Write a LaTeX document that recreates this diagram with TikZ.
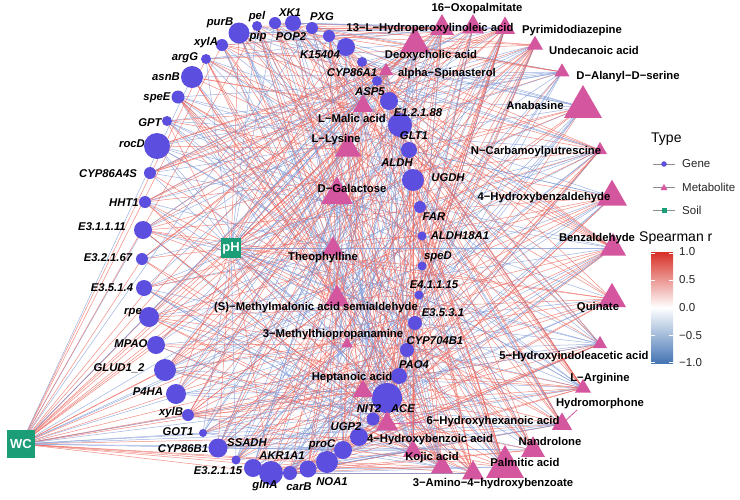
\documentclass[tikz,border=0pt]{standalone}
\usepackage{fontspec}
\setmainfont{Liberation Sans}
\usetikzlibrary{shapes.geometric}
\pgfdeclarelayer{edges}
\pgfdeclarelayer{shapes}
\pgfsetlayers{edges,shapes,main}
\definecolor{geneC}{RGB}{92,78,222}
\definecolor{metC}{RGB}{212,86,158}
\definecolor{soilC}{RGB}{27,158,119}
\definecolor{eR}{RGB}{236,100,90}
\definecolor{eB}{RGB}{125,152,214}
\definecolor{cbR}{RGB}{215,48,39}
\definecolor{cbB}{RGB}{69,117,180}
\tikzset{
  gene/.style={circle,fill=geneC,inner sep=0pt,minimum size=#1},
  met/.style={regular polygon,regular polygon sides=3,fill=metC,inner sep=0pt,minimum size=#1},
  soil/.style={rectangle,fill=soilC,inner sep=0pt,minimum size=#1,text=white,font=\fontsize{13}{15}\selectfont\bfseries},
  glab/.style={font=\fontsize{11.3}{13}\selectfont\bfseries\itshape,inner sep=0pt},
  mlab/.style={font=\fontsize{11.3}{13}\selectfont\bfseries,inner sep=0pt},
  redge/.style={draw=eR,line width=0.5pt,opacity=0.75},
  bedge/.style={draw=eB,line width=0.5pt,opacity=0.75},
  leader/.style={draw=metC,line width=0.8pt},
  legt/.style={font=\fontsize{14}{16}\selectfont,inner sep=0pt,anchor=west},
  legl/.style={font=\fontsize{11.5}{13}\selectfont,inner sep=0pt,anchor=west,text=black!85},
  keyline/.style={draw=black!45,line width=0.6pt},
  tickw/.style={draw=white,line width=0.6pt}
}
\begin{document}
\begin{tikzpicture}[x=1pt,y=-1pt]
\useasboundingbox (0,0) rectangle (740,499);
% ---------- genes ----------
\begin{pgfonlayer}{shapes}
\foreach \n/\x/\y/\s in {
1/239/33/21, 2/222/45/12, 3/206/59/10, 4/192/77/22, 5/178/97/13, 6/167/121/10,
7/157/146/26, 8/150/173/12, 9/145/202/12, 10/143/230/18, 11/142/259/12, 12/144/288/16,
13/149/317/20, 14/156/345/18, 15/165/370/22, 16/176/394/20, 17/188/415/12, 18/203/433/8,
19/218/448/19, 20/236/460/9, 21/253/468/18, 22/271/473/24, 23/290/473/14, 24/308/469/17,
25/327/462/22, 26/343/450/18, 27/359/437/18, 28/373/419/13, 29/387/398/30, 30/399/376/16,
31/407/350/14, 32/415/323/14, 33/419/295/9, 34/422/266/9, 35/422/236/9, 36/420/207/12,
37/413/180/22, 38/409/150/16, 39/400/125/24, 40/389/101/18, 41/377/81/10, 42/362/62/10,
43/346/47/18, 44/329/36/12, 45/312/28/12, 46/293/23/16, 47/275/23/12, 48/257/26/10}
{\node[gene=\s] (g\n) at (\x,\y) {};}
% ---------- metabolites ----------
\foreach \n/\x/\y/\w in {
1/442/28/24, 2/473/27/22, 3/505/28/20, 4/535/45/16, 5/415/44/30, 6/386/71/14,
7/562/72/15, 8/583/107/38, 9/600/150/14, 10/363/106/20, 11/348/149/26, 12/337/195/32,
13/333/249/22, 14/337/299/25, 15/347/344/12, 16/363/391/20, 17/387/424/22, 18/413/451/20,
19/442/467/22, 20/473/473/22, 21/505/467/38, 22/533/450/24, 23/562/424/20, 24/583/388/16,
25/600/344/14, 26/612/299/28, 27/613/248/26, 28/612/197/30}
{\pgfmathsetmacro{\d}{1.155*\w}\node[met=\d pt] (m\n) at (\x,\y) {};}
% ---------- soil ----------
\node[soil=20pt] (ph) at (231,248) {pH};
\node[soil=28pt] (wc) at (21,444) {WC};
\end{pgfonlayer}
% ---------- edges ----------
\begin{pgfonlayer}{edges}
\pgfmathsetseed{4242}
\foreach \i in {1,...,48}{
  \foreach \j in {1,...,28}{
    \pgfmathsetmacro{\rr}{rnd}
    \ifdim\rr pt<0.19pt \draw[redge] (g\i.center) -- (m\j.center);
    \else\ifdim\rr pt<0.36pt \draw[bedge] (g\i.center) -- (m\j.center);\fi\fi
  }
}
\foreach \i in {1,...,48}{
  \pgfmathsetmacro{\rr}{rnd}
  \ifdim\rr pt<0.25pt \draw[redge] (wc.center) -- (g\i.center);
  \else\ifdim\rr pt<0.55pt \draw[bedge] (wc.center) -- (g\i.center);\fi\fi
  \pgfmathsetmacro{\rr}{rnd}
  \ifdim\rr pt<0.3pt \draw[redge] (ph.center) -- (g\i.center);
  \else\ifdim\rr pt<0.55pt \draw[bedge] (ph.center) -- (g\i.center);\fi\fi
}
\foreach \j in {1,...,28}{
  \pgfmathsetmacro{\rr}{rnd}
  \ifdim\rr pt<0.3pt \draw[redge] (wc.center) -- (m\j.center);
  \else\ifdim\rr pt<0.55pt \draw[bedge] (wc.center) -- (m\j.center);\fi\fi
  \pgfmathsetmacro{\rr}{rnd}
  \ifdim\rr pt<0.35pt \draw[redge] (ph.center) -- (m\j.center);
  \else\ifdim\rr pt<0.6pt \draw[bedge] (ph.center) -- (m\j.center);\fi\fi
}
\end{pgfonlayer}
% ---------- gene labels ----------
\foreach \n/\x/\y/\t in {
1/220/23/purB, 2/206/43/xylA, 3/185/58/argG, 4/166/77/asnB, 5/157/98/speE, 6/150/123/GPT,
7/132/144/rocD, 8/108/174/CYP86A4S, 9/124/203/HHT1, 10/102/227/E3.1.1.11, 11/108/258/E3.2.1.67,
12/112/288/E3.5.1.4, 13/133/313/rpe, 14/131/344/MPAO, 15/119/368/GLUD1\_2, 16/148/392/P4HA,
17/171/413/xylB, 18/178/432/GOT1, 19/183/449/CYP86B1, 20/218/471/E3.2.1.15, 21/247/443/SSADH,
22/265/486/glnA, 23/282/456/AKR1A1, 24/299/487/carB, 25/332/482/NOA1, 26/322/445/proC,
27/346/427/UGP2, 28/369/409/NIT2, 29/403/409/ACE, 30/414/365/PAO4, 31/435/341/CYP704B1,
32/443/313/E3.5.3.1, 33/434/285/E4.1.1.15, 34/438/257/speD, 35/460/236/ALDH18A1, 36/434/217/FAR,
37/448/178/UGDH, 38/397/163/ALDH, 39/414/136/GLT1, 40/418/113/E1.2.1.88, 41/370/92/ASP5,
42/352/73/CYP86A1, 43/320/55/K15404, 44/291/37/POP2, 45/322/17/PXG, 46/290/13/XK1,
47/258/37/pip, 48/257/17/pel}
{\node[glab] (gl\n) at (\x,\y) {\t};}
% ---------- metabolite labels ----------
\foreach \n/\x/\y/\t in {
1/477/9/16−Oxopalmitate, 2/430/29/13−L−Hydroperoxylinoleic acid, 3/572/31/Pyrimidodiazepine,
4/594/50/Undecanoic acid, 5/431/56/Deoxycholic acid, 6/447/74/alpha−Spinasterol,
7/628/77/D−Alanyl−D−serine, 8/535/105/Anabasine, 9/536/152/N−Carbamoylputrescine,
10/352/118/L−Malic acid, 11/336/140/L−Lysine, 12/352/188/D−Galactose, 13/323/258/Theophylline,
14/316/308/(S)−Methylmalonic acid semialdehyde, 15/333/335/3−Methylthiopropanamine,
16/352/378/Heptanoic acid, 17/493/422/6−Hydroxyhexanoic acid, 18/430/440/4−Hydroxybenzoic acid,
19/432/458/Kojic acid, 20/493/484/3−Amino−4−hydroxybenzoate, 21/525/462/Palmitic acid,
22/550/441/Nandrolone, 23/600/404/Hydromorphone, 24/600/379/L−Arginine,
25/574/357/5−Hydroxyindoleacetic acid, 26/598/308/Quinate, 27/597/239/Benzaldehyde,
28/544/198/4−Hydroxybenzaldehyde}
{\node[mlab] (ml\n) at (\x,\y) {\t};}
% leader lines
\coordinate (hy) at (577,410);
\draw[leader] (m23.center) -- (hy);
\draw[leader] (m17.center) -- (ml17.west);
% ---------- legend ----------
\node[legt] (lt) at (651,139) {Type};
\coordinate (k1a) at (653,164); \coordinate (k1b) at (675,164);
\coordinate (k2a) at (653,187); \coordinate (k2b) at (675,187);
\coordinate (k3a) at (653,210); \coordinate (k3b) at (675,210);
\draw[keyline] (k1a) -- (k1b);
\draw[keyline] (k2a) -- (k2b);
\draw[keyline] (k3a) -- (k3b);
\node[gene=5.5pt] (kg) at (664,164) {};
\node[met=8pt] (km) at (664,188) {};
\node[rectangle,fill=soilC,minimum size=5pt,inner sep=0pt] (ks) at (664,210) {};
\node[legl] (lg) at (682,164) {Gene};
\node[legl] (lm) at (682,187) {Metabolite};
\node[legl] (ls) at (682,210) {Soil};
\node[legt] (st) at (639,238) {Spearman r};
\shade[top color=cbR,bottom color=cbB,middle color=white] (651,252) rectangle (673,363);
\foreach \yy in {252.8,280,307.5,335,362.2}{
  \draw[tickw] (651,\yy) -- (655,\yy);
  \draw[tickw] (669,\yy) -- (673,\yy);
}
\node[legl] (c1) at (679,252) {1.0};
\node[legl] (c2) at (679,280) {0.5};
\node[legl] (c3) at (679,308) {0.0};
\node[legl] (c4) at (679,336) {−0.5};
\node[legl] (c5) at (679,363) {−1.0};
\end{tikzpicture}
\end{document}
